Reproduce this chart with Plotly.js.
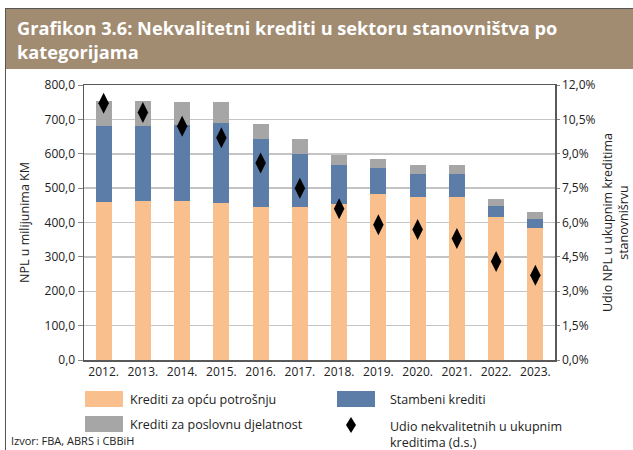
<!DOCTYPE html>
<html><head><meta charset="utf-8">
<script src="https://cdn.plot.ly/plotly-3.0.1.min.js"></script>
<style>html,body{margin:0;padding:0;background:#fff}#chart{width:633px;height:450px}</style>
</head><body><div id="chart"></div>
<script>
// ---- data ----
const years = ['2012.', '2013.', '2014.', '2015.', '2016.', '2017.', '2018.', '2019.', '2020.', '2021.', '2022.', '2023.'];
const consumerLoans = [459, 462, 463, 458, 446, 444, 454, 482, 475, 475, 417, 385];
const housingLoans  = [223, 219, 222, 231, 196, 156, 112, 77, 67, 67, 32, 24];
const businessLoans = [71, 73, 65, 62, 46, 42, 31, 27, 24, 24, 20, 21];
const nplShare      = [11.2, 10.8, 10.2, 9.7, 8.6, 7.5, 6.6, 5.9, 5.7, 5.3, 4.3, 3.7];
const seriesNames = ['Krediti za opću potrošnju', 'Stambeni krediti', 'Krediti za poslovnu djelatnost', 'Udio nekvalitetnih u ukupnim<br>kreditima (d.s.)'];
const chartTitle = 'Grafikon 3.6: Nekvalitetni krediti u sektoru stanovništva po<br>kategorijama';
const leftAxisTitle = 'NPL u milijunima KM';
const rightAxisTitle = 'Udio NPL u ukupnim kreditima<br>stanovnišrvu';
const sourceText = 'Izvor: FBA, ABRS i CBBiH';

// ---- styles ----
const W = 633, H = 450;
const PL = 84, PR = 555, PT = 85, PB = 360;
const colors = ['#F9C08E', '#5B7DA7', '#A6A6A6', '#000000'];
const font = 'Open Sans, Noto Sans, sans-serif';
const txt = '#222222';
const px = x => (x - PL) / (PR - PL);
const py = y => (PB - y) / (PB - PT);

const traces = [
  {type: 'bar', x: years, y: consumerLoans, name: seriesNames[0], marker: {color: colors[0], line: {width: 0}}},
  {type: 'bar', x: years, y: housingLoans, name: seriesNames[1], marker: {color: colors[1], line: {width: 0}}},
  {type: 'bar', x: years, y: businessLoans, name: seriesNames[2], marker: {color: colors[2], line: {width: 0}}},
  {type: 'scatter', mode: 'markers', x: years, y: nplShare, yaxis: 'y2', name: seriesNames[3],
   marker: {symbol: 'diamond-tall', size: 15, color: colors[3]}}
];

const shapes = [
  // banner
  {type: 'rect', xref: 'paper', yref: 'paper', x0: px(5), x1: px(W + 2), y0: py(69), y1: py(9), fillcolor: '#A18B71', line: {width: 0}, layer: 'below'},
  // frame lines
  {type: 'line', xref: 'paper', yref: 'paper', x0: px(5), x1: px(W + 2), y0: py(8.5), y1: py(8.5), line: {color: '#555', width: 1}},
  {type: 'line', xref: 'paper', yref: 'paper', x0: px(5.5), x1: px(5.5), y0: py(9), y1: py(H + 2), line: {color: '#555', width: 1}},
  // legend swatches
  {type: 'rect', xref: 'paper', yref: 'paper', x0: px(85), x1: px(123), y0: py(407), y1: py(391), fillcolor: colors[0], line: {width: 0}},
  {type: 'rect', xref: 'paper', yref: 'paper', x0: px(337), x1: px(375), y0: py(407), y1: py(391), fillcolor: colors[1], line: {width: 0}},
  {type: 'rect', xref: 'paper', yref: 'paper', x0: px(85), x1: px(123), y0: py(432), y1: py(416), fillcolor: colors[2], line: {width: 0}},
  {type: 'path', xref: 'paper', yref: 'paper',
   path: `M ${px(351)} ${py(417)} L ${px(356)} ${py(425)} L ${px(351)} ${py(433)} L ${px(346)} ${py(425)} Z`,
   fillcolor: colors[3], line: {width: 0}}
];

const legendFont = {family: font, size: 12.5, color: txt};
const annotations = [
  {xref: 'paper', yref: 'paper', x: px(128), y: py(399), text: seriesNames[0], showarrow: false, xanchor: 'left', yanchor: 'middle', font: legendFont},
  {xref: 'paper', yref: 'paper', x: px(388), y: py(399), text: seriesNames[1], showarrow: false, xanchor: 'left', yanchor: 'middle', font: legendFont},
  {xref: 'paper', yref: 'paper', x: px(128), y: py(424), text: seriesNames[2], showarrow: false, xanchor: 'left', yanchor: 'middle', font: legendFont},
  {xref: 'paper', yref: 'paper', x: px(388), y: py(416), text: seriesNames[3], showarrow: false, xanchor: 'left', yanchor: 'top', align: 'left', font: legendFont},
  {xref: 'paper', yref: 'paper', x: px(9), y: py(450), text: sourceText, showarrow: false, xanchor: 'left', yanchor: 'bottom', font: {family: font, size: 11, color: txt}},
  {xref: 'paper', yref: 'paper', x: px(15), y: py(14), text: '<b>' + chartTitle + '</b>', showarrow: false, xanchor: 'left', yanchor: 'top', align: 'left',
   font: {family: font, size: 18.2, color: '#ffffff'}}
];

const tickFont = {family: font, size: 12, color: txt};
const layout = {
  width: W, height: H,
  margin: {l: PL, r: W - PR, t: PT, b: H - PB, pad: 0},
  paper_bgcolor: '#ffffff', plot_bgcolor: '#ffffff',
  separators: ',.',
  showlegend: false,
  barmode: 'stack',
  bargap: 0.59,
  xaxis: {type: 'category', range: [-0.5, years.length - 0.5], autorange: false, automargin: false,
          showline: true, mirror: true, linecolor: '#595959', linewidth: 1.5,
          ticks: '', tickfont: tickFont, showgrid: false, fixedrange: true},
  yaxis: {range: [0, 800], autorange: false, automargin: false, dtick: 100, tickformat: '.1f', showline: true, linecolor: '#595959', linewidth: 1.5,
          ticks: 'outside', ticklen: 5, tickcolor: '#888', tickfont: tickFont,
          gridcolor: '#C4C4C4', gridwidth: 1.5, zeroline: false,
          title: {text: leftAxisTitle, font: {family: font, size: 12.5, color: txt}, standoff: 12}},
  yaxis2: {range: [0, 12], autorange: false, automargin: false, dtick: 1.5, tickformat: '.1f', ticksuffix: '%', overlaying: 'y', side: 'right',
           showline: true, linecolor: '#595959', linewidth: 1.5, ticks: 'outside', ticklen: 3, tickcolor: '#888',
           tickfont: tickFont, showgrid: false, zeroline: false,
           title: {text: rightAxisTitle, font: {family: font, size: 12.5, color: txt}, standoff: 8}},
  shapes: shapes,
  annotations: annotations
};

Plotly.newPlot('chart', traces, layout, {displayModeBar: false, staticPlot: true});
</script>
</body></html>
